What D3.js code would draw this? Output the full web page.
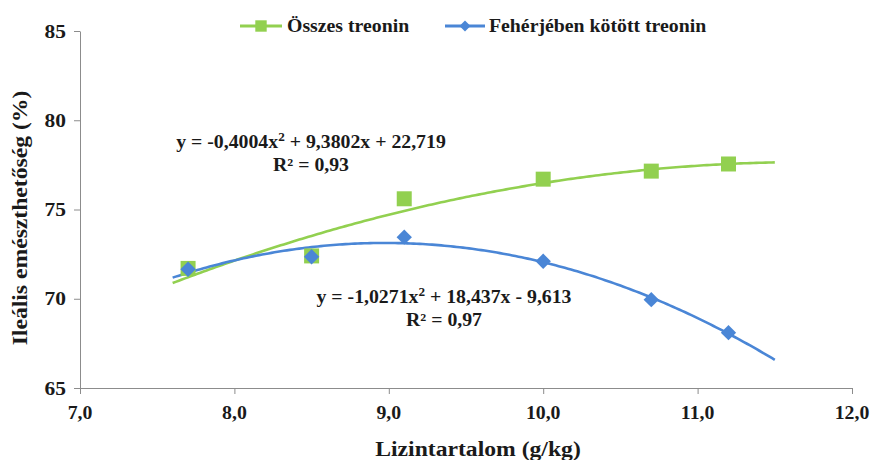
<!DOCTYPE html>
<html>
<head>
<meta charset="utf-8">
<script src="https://cdn.jsdelivr.net/npm/d3@7/dist/d3.min.js"></script>
<style>
  html, body { margin: 0; padding: 0; background: #fff; }
  svg { display: block; }
  text { font-family: "Liberation Serif", "Times New Roman", serif; font-weight: bold; fill: #1a1a1a; }
</style>
</head>
<body>
<svg id="chart" width="872" height="460"></svg>
<script>
// Lysine content (g/kg) at each measured diet
const lysine = [7.7, 8.5, 9.1, 10.0, 10.7, 11.2];
// Ileal digestibility (%) of total threonine
const totalThr = [71.7, 72.4, 75.6, 76.7, 77.15, 77.55];
// Ileal digestibility (%) of protein-bound threonine
const boundThr = [71.65, 72.35, 73.45, 72.1, 69.95, 68.1];

// Second-order trendline coefficients [a, b, c] for y = a x^2 + b x + c
const totalCoef = [-0.4004, 9.3802, 22.719];
const boundCoef = [-1.0271, 18.437, -9.613];
const trendRange = [7.6, 11.5];

const xTicks = [7, 8, 9, 10, 11, 12];
const yTicks = [65, 70, 75, 80, 85];

const seriesNames = ["Összes treonin", "Fehérjében kötött treonin"];
const xTitle = "Lizintartalom (g/kg)";
const yTitle = "Ileális emészthetőség (%)";

const green = "#92d050";
const blue = "#4a86d6";
const axisColor = "#8c8c8c";
const hs = 1.1; // horizontal text stretch

const svg = d3.select("#chart");
const x = d3.scaleLinear().domain([7, 12]).range([80, 852]);
const y = d3.scaleLinear().domain([65, 85]).range([388, 31]);

const fmtComma = d => d3.format(".1f")(d).replace(".", ",");

function stretchedText(g, tx, ty, str, size, anchor, rot) {
  return g.append("text")
    .attr("transform", `translate(${tx},${ty})${rot ? ` rotate(${rot})` : ""} scale(${hs},1)`)
    .attr("text-anchor", anchor)
    .style("font-size", size + "px")
    .text(str);
}

// X axis
const xAxis = svg.append("g").attr("transform", `translate(0,${y(65)})`)
  .call(d3.axisBottom(x).tickValues(xTicks).tickSize(6).tickSizeOuter(0).tickFormat(() => ""));
xAxis.select(".domain").attr("stroke", axisColor);
xAxis.selectAll(".tick line").attr("stroke", axisColor);
xTicks.forEach(t => stretchedText(svg, x(t), 419, fmtComma(t), 18, "middle"));

// Y axis
const yAxis = svg.append("g").attr("transform", `translate(${x(7)},0)`)
  .call(d3.axisLeft(y).tickValues(yTicks).tickSize(6).tickSizeOuter(0).tickFormat(() => ""));
yAxis.select(".domain").attr("stroke", axisColor);
yAxis.selectAll(".tick line").attr("stroke", axisColor);
yTicks.forEach(t => stretchedText(svg, 66, y(t) + 6.5, String(t), 19.5, "end"));

// Axis titles
stretchedText(svg, 478, 456, xTitle, 21.5, "middle");
stretchedText(svg, 27, 218, yTitle, 21.5, "middle", -90);

// Trendlines
const poly = c => v => c[0] * v * v + c[1] * v + c[2];
const xs = d3.range(trendRange[0], trendRange[1] + 1e-9, 0.02);
const line = f => d3.line().x(v => x(v)).y(v => y(f(v)))(xs);

svg.append("path").attr("d", line(poly(totalCoef)))
  .attr("fill", "none").attr("stroke", green).attr("stroke-width", 2.6);
svg.append("path").attr("d", line(poly(boundCoef)))
  .attr("fill", "none").attr("stroke", blue).attr("stroke-width", 2.6);

// Markers
const sq = d3.symbol().type(d3.symbolSquare).size(225);
const dia = d3.symbol().type(d3.symbolSquare).size(118);

svg.append("g").selectAll("path").data(lysine).join("path")
  .attr("d", sq)
  .attr("transform", (d, i) => `translate(${x(d)},${y(totalThr[i])})`)
  .attr("fill", green);

svg.append("g").selectAll("path").data(lysine).join("path")
  .attr("d", dia)
  .attr("transform", (d, i) => `translate(${x(d)},${y(boundThr[i])}) rotate(45)`)
  .attr("fill", blue);

// Trendline equations
function equation(cx, cy, coef, r2) {
  const n = v => d3.format(".4~f")(Math.abs(v)).replace(".", ",");
  const sgn = v => (v < 0 ? " - " : " + ");
  const t = svg.append("text")
    .attr("transform", `translate(${cx},${cy}) scale(${hs},1)`)
    .attr("text-anchor", "middle")
    .style("font-size", "18px");
  t.append("tspan").text(`y = ${coef[0] < 0 ? "-" : ""}${n(coef[0])}x`);
  t.append("tspan").attr("dy", -7).style("font-size", "12px").text("2");
  t.append("tspan").attr("dy", 7).text(`${sgn(coef[1])}${n(coef[1])}x${sgn(coef[2])}${n(coef[2])}`);
  svg.append("text")
    .attr("transform", `translate(${cx},${cy + 23}) scale(${hs},1)`)
    .attr("text-anchor", "middle")
    .style("font-size", "18px")
    .text(`R² = ${String(r2).replace(".", ",")}`);
}
equation(311, 148, totalCoef, 0.93);
equation(444, 303, boundCoef, 0.97);

// Legend
const lg = svg.append("g");
lg.append("line").attr("x1", 240).attr("x2", 282).attr("y1", 26).attr("y2", 26)
  .attr("stroke", green).attr("stroke-width", 3);
lg.append("path").attr("d", d3.symbol().type(d3.symbolSquare).size(130))
  .attr("transform", "translate(261,26)").attr("fill", green);
stretchedText(lg, 287, 32, seriesNames[0], 18, "start");

lg.append("line").attr("x1", 445).attr("x2", 485).attr("y1", 26).attr("y2", 26)
  .attr("stroke", blue).attr("stroke-width", 3);
lg.append("path").attr("d", d3.symbol().type(d3.symbolSquare).size(60))
  .attr("transform", "translate(465,26) rotate(45)").attr("fill", blue);
stretchedText(lg, 489, 32, seriesNames[1], 18, "start");
</script>
</body>
</html>
